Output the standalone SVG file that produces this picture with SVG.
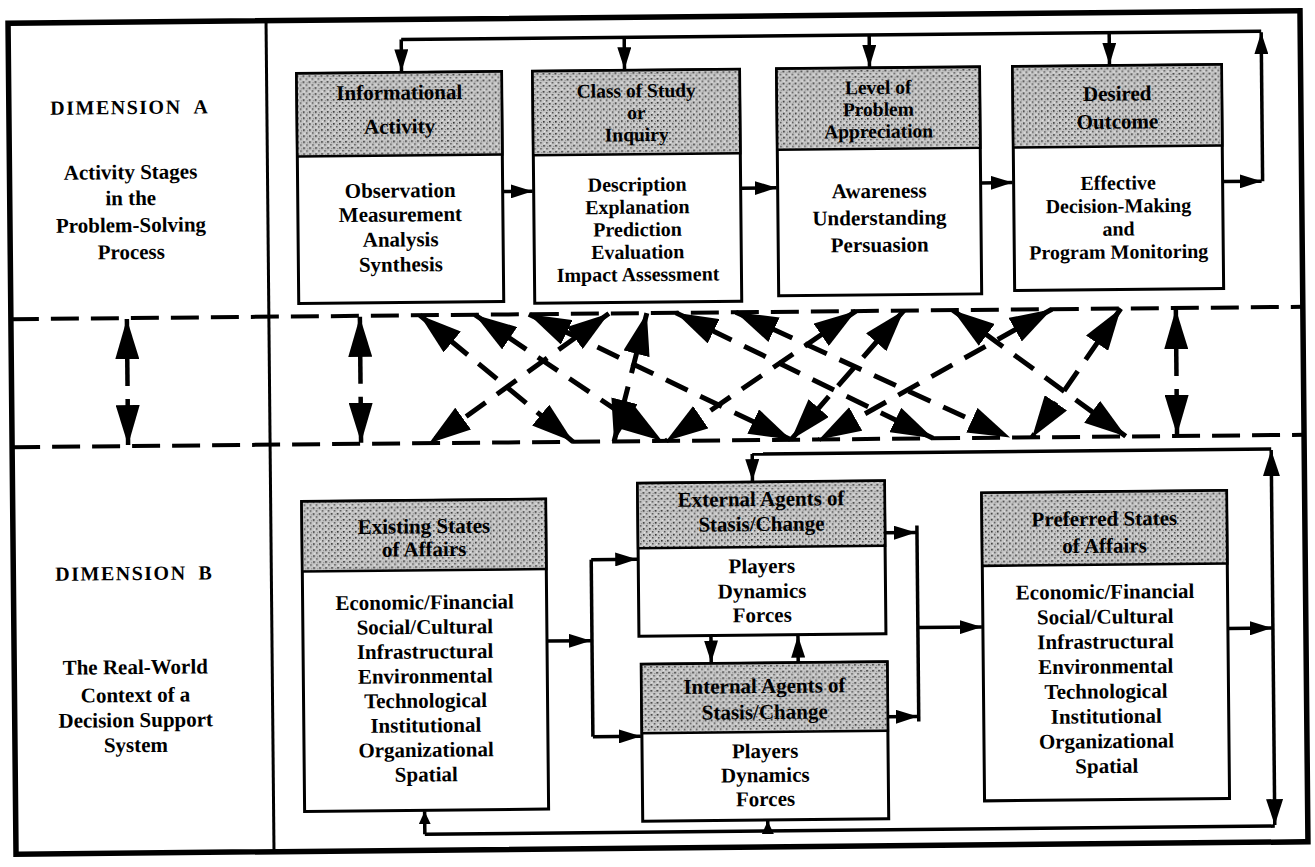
<svg xmlns="http://www.w3.org/2000/svg" width="1315" height="867" viewBox="0 0 1315 867">
<defs>
<style>
.frame{fill:none;stroke:#000;stroke-width:5.5}
.div{fill:none;stroke:#000;stroke-width:3}
.box{fill:#fff;stroke:#000;stroke-width:3}
.hdr{fill:url(#stip);stroke:#000;stroke-width:2.5}
.t{font-family:"Liberation Serif","Times New Roman",serif;font-weight:bold;font-size:21px;text-anchor:middle;fill:#000}
.s20{font-size:20px}
.s19{font-size:19.5px}
.dim{font-size:20px;letter-spacing:1.5px}
.conn{fill:none;stroke:#000;stroke-width:3.5}
.band{fill:none;stroke:#000;stroke-width:4;stroke-dasharray:28 12}
.dash{fill:none;stroke:#000;stroke-width:5;stroke-dasharray:24 14}
.vert{fill:none;stroke:#000;stroke-width:4.5}
</style>
<pattern id="stip" width="6" height="6" patternUnits="userSpaceOnUse">
<rect width="6" height="6" fill="#c6c6c6"/>
<rect x="0" y="0" width="1.6" height="1.6" fill="#2e2e2e"/>
<rect x="3" y="3" width="1.5" height="1.5" fill="#4a4a4a"/>
<rect x="4" y="1" width="1" height="1" fill="#808080"/>
<rect x="1" y="4" width="1" height="1" fill="#ededed"/>
</pattern>
<marker id="ah" markerUnits="userSpaceOnUse" markerWidth="22" markerHeight="14" refX="22" refY="7" orient="auto"><path d="M0,0 L22,7 L0,14 z" fill="#000"/></marker>
<marker id="ahS" markerUnits="userSpaceOnUse" markerWidth="13" markerHeight="12" refX="13" refY="6" orient="auto"><path d="M0,0 L13,6 L0,12 z" fill="#000"/></marker>
<marker id="ahL" markerUnits="userSpaceOnUse" markerWidth="26" markerHeight="17" refX="26" refY="8.5" orient="auto"><path d="M0,0 L26,8.5 L0,17 z" fill="#000"/></marker>
<marker id="vh" markerUnits="userSpaceOnUse" markerWidth="40" markerHeight="24" refX="40" refY="12" orient="auto"><path d="M0,0 L40,12 L0,24 z" fill="#000"/></marker>
<marker id="dh" markerUnits="userSpaceOnUse" markerWidth="42" markerHeight="27" refX="42" refY="13.5" orient="auto-start-reverse"><path d="M0,0 L42,13.5 L0,27 z" fill="#000"/></marker>
</defs>
<rect width="1315" height="867" fill="#fff"/>
<g transform="rotate(-0.55 657 433)">
<g id="frame">
<rect class="frame" x="12" y="17" width="1292" height="831"/>
<line class="div" x1="270" y1="17" x2="270" y2="848"/>
<line class="band" x1="12" y1="313" x2="1304" y2="313"/>
<line class="band" x1="12" y1="441" x2="1304" y2="441"/>
</g>
<g id="dimA">
<text class="t dim" x="133" y="109">DIMENSION<tspan dx="12">A</tspan></text>
<text class="t" x="133" y="174">Activity Stages</text>
<text class="t" x="133" y="200">in the</text>
<text class="t" x="133" y="227">Problem-Solving</text>
<text class="t" x="133" y="254">Process</text>
</g>
<g id="dimB">
<text class="t dim" x="133" y="575">DIMENSION<tspan dx="12">B</tspan></text>
<text class="t" x="133" y="669">The Real-World</text>
<text class="t" x="133" y="697">Context of a</text>
<text class="t" x="133" y="722">Decision Support</text>
<text class="t" x="133" y="747">System</text>
</g>
<g id="informational">
<rect class="box" x="300" y="70" width="205" height="230"/>
<rect class="hdr" x="300" y="70" width="205" height="83"/>
<text class="t" x="402.5" y="97">Informational</text>
<text class="t" x="402.5" y="131">Activity</text>
<text class="t" x="402.5" y="195">Observation</text>
<text class="t" x="402.5" y="219">Measurement</text>
<text class="t" x="402.5" y="244">Analysis</text>
<text class="t" x="402.5" y="269">Synthesis</text>
</g>
<g id="classOfStudy">
<rect class="box" x="536" y="70" width="207" height="232"/>
<rect class="hdr" x="536" y="70" width="207" height="84"/>
<text class="t s19" x="639.5" y="97">Class of Study</text>
<text class="t s19" x="639.5" y="119">or</text>
<text class="t s19" x="639.5" y="141">Inquiry</text>
<text class="t s20" x="639.5" y="191">Description</text>
<text class="t s20" x="639.5" y="213.5">Explanation</text>
<text class="t s20" x="639.5" y="236">Prediction</text>
<text class="t s20" x="639.5" y="258.5">Evaluation</text>
<text class="t s20" x="639.5" y="281">Impact Assessment</text>
</g>
<g id="levelOfProblem">
<rect class="box" x="780" y="70" width="203" height="227"/>
<rect class="hdr" x="780" y="70" width="203" height="81"/>
<text class="t s19" x="881.5" y="96">Level of</text>
<text class="t s19" x="881.5" y="118">Problem</text>
<text class="t s19" x="881.5" y="140">Appreciation</text>
<text class="t" x="881.5" y="200">Awareness</text>
<text class="t" x="881.5" y="227">Understanding</text>
<text class="t" x="881.5" y="254">Persuasion</text>
</g>
<g id="desiredOutcome">
<rect class="box" x="1016" y="70" width="209" height="224"/>
<rect class="hdr" x="1016" y="70" width="209" height="81"/>
<text class="t" x="1120.5" y="105">Desired</text>
<text class="t" x="1120.5" y="133">Outcome</text>
<text class="t s20" x="1120.5" y="194">Effective</text>
<text class="t s20" x="1120.5" y="217">Decision-Making</text>
<text class="t s20" x="1120.5" y="240">and</text>
<text class="t s20" x="1120.5" y="263">Program Monitoring</text>
</g>
<g id="existingStates">
<rect class="box" x="301" y="498" width="244" height="310"/>
<rect class="hdr" x="301" y="498" width="244" height="70"/>
<text class="t" x="423" y="531">Existing States</text>
<text class="t" x="423" y="554">of Affairs</text>
<text class="t" x="423" y="607">Economic/Financial</text>
<text class="t" x="423" y="631.6">Social/Cultural</text>
<text class="t" x="423" y="656.2">Infrastructural</text>
<text class="t" x="423" y="680.8">Environmental</text>
<text class="t" x="423" y="705.4">Technological</text>
<text class="t" x="423" y="730">Institutional</text>
<text class="t" x="423" y="754.6">Organizational</text>
<text class="t" x="423" y="779.2">Spatial</text>
</g>
<g id="externalAgents">
<rect class="box" x="637" y="483" width="247" height="153"/>
<rect class="hdr" x="637" y="483" width="247" height="65"/>
<text class="t" x="760.5" y="507">External Agents of</text>
<text class="t" x="760.5" y="532">Stasis/Change</text>
<text class="t" x="760.5" y="574">Players</text>
<text class="t" x="760.5" y="599">Dynamics</text>
<text class="t" x="760.5" y="623">Forces</text>
</g>
<g id="internalAgents">
<rect class="box" x="639" y="664" width="246" height="157"/>
<rect class="hdr" x="639" y="664" width="246" height="69"/>
<text class="t" x="762" y="694">Internal Agents of</text>
<text class="t" x="762" y="720">Stasis/Change</text>
<text class="t" x="762" y="759">Players</text>
<text class="t" x="762" y="783">Dynamics</text>
<text class="t" x="762" y="807">Forces</text>
</g>
<g id="preferredStates">
<rect class="box" x="981" y="496" width="245" height="308"/>
<rect class="hdr" x="981" y="496" width="245" height="73"/>
<text class="t" x="1103.5" y="530">Preferred States</text>
<text class="t" x="1103.5" y="557">of Affairs</text>
<text class="t" x="1103.5" y="603">Economic/Financial</text>
<text class="t" x="1103.5" y="627.9">Social/Cultural</text>
<text class="t" x="1103.5" y="652.8">Infrastructural</text>
<text class="t" x="1103.5" y="677.7">Environmental</text>
<text class="t" x="1103.5" y="702.6">Technological</text>
<text class="t" x="1103.5" y="727.5">Institutional</text>
<text class="t" x="1103.5" y="752.4">Organizational</text>
<text class="t" x="1103.5" y="777.3">Spatial</text>
</g>
<g id="connectors">
<path class="conn" d="M1265,37 H405"/>
<path class="conn" d="M405,37 V69" marker-end="url(#ah)"/>
<path class="conn" d="M628,37 V69" marker-end="url(#ah)"/>
<path class="conn" d="M873,37 V69" marker-end="url(#ah)"/>
<path class="conn" d="M1113,37 V69" marker-end="url(#ah)"/>
<path class="conn" d="M1265,187 V38" marker-end="url(#ah)"/>
<path class="conn" d="M505,190 H535" marker-end="url(#ah)"/>
<path class="conn" d="M743,189 H779" marker-end="url(#ah)"/>
<path class="conn" d="M983,186 H1015" marker-end="url(#ah)"/>
<path class="conn" d="M1225,187 H1264" marker-end="url(#ah)"/>
<path class="vert" d="M128,381 V314" marker-end="url(#vh)"/>
<path class="vert" d="M128,394 V440" marker-end="url(#vh)"/>
<path class="vert" d="M361,381 V314" marker-end="url(#vh)"/>
<path class="vert" d="M361,394 V440" marker-end="url(#vh)"/>
<path class="vert" d="M1177,381 V314" marker-end="url(#vh)"/>
<path class="vert" d="M1177,394 V440" marker-end="url(#vh)"/>
<path class="dash" d="M421,313 L573,441" marker-start="url(#dh)" marker-end="url(#dh)"/>
<path class="dash" d="M476,313 L662,441" marker-start="url(#dh)" marker-end="url(#dh)"/>
<path class="dash" d="M530,313 L791,441" marker-start="url(#dh)" marker-end="url(#dh)"/>
<path class="dash" d="M610,313 L429,441" marker-start="url(#dh)" marker-end="url(#dh)"/>
<path class="dash" d="M648,313 L614,441" marker-start="url(#dh)" marker-end="url(#dh)"/>
<path class="dash" d="M677,313 L933,441" marker-start="url(#dh)" marker-end="url(#dh)"/>
<path class="dash" d="M857,313 L666,441" marker-start="url(#dh)" marker-end="url(#dh)"/>
<path class="dash" d="M954,313 L1126,441" marker-start="url(#dh)" marker-end="url(#dh)"/>
<path class="dash" d="M1053,313 L819,441" marker-start="url(#dh)" marker-end="url(#dh)"/>
<path class="dash" d="M1122,313 L1032,441" marker-start="url(#dh)" marker-end="url(#dh)"/>
<path class="dash" d="M737,313 L1010,441" marker-start="url(#dh)" marker-end="url(#dh)"/>
<path class="dash" d="M905,313 L791,441" marker-start="url(#dh)" marker-end="url(#dh)"/>
<path class="conn" d="M545,640 H589" marker-end="url(#ah)"/>
<path class="conn" d="M590,559 V736"/>
<path class="conn" d="M590,559 H636" marker-end="url(#ah)"/>
<path class="conn" d="M590,736 H638" marker-end="url(#ah)"/>
<path class="conn" d="M884,535 H915" marker-end="url(#ah)"/>
<path class="conn" d="M885,719 H915" marker-end="url(#ah)"/>
<path class="conn" d="M916,528 V724"/>
<path class="conn" d="M916,630 H980" marker-end="url(#ah)"/>
<path class="conn" d="M709,636 V663" marker-end="url(#ah)"/>
<path class="conn" d="M796,664 V637" marker-end="url(#ah)"/>
<path class="conn" d="M1226,634 H1270" marker-end="url(#ah)"/>
<path class="conn" d="M1271,455 H752"/>
<path class="conn" d="M752,455 V482" marker-end="url(#ah)"/>
<path class="conn" d="M1271,634 V456" marker-end="url(#ahL)"/>
<path class="conn" d="M1271,634 V831" marker-end="url(#ahL)"/>
<path class="conn" d="M1271,832 H421"/>
<path class="conn" d="M421,832 V809" marker-end="url(#ahS)"/>
<path class="conn" d="M764,832 V822" marker-end="url(#ahS)"/>
</g>
</g>
</svg>
